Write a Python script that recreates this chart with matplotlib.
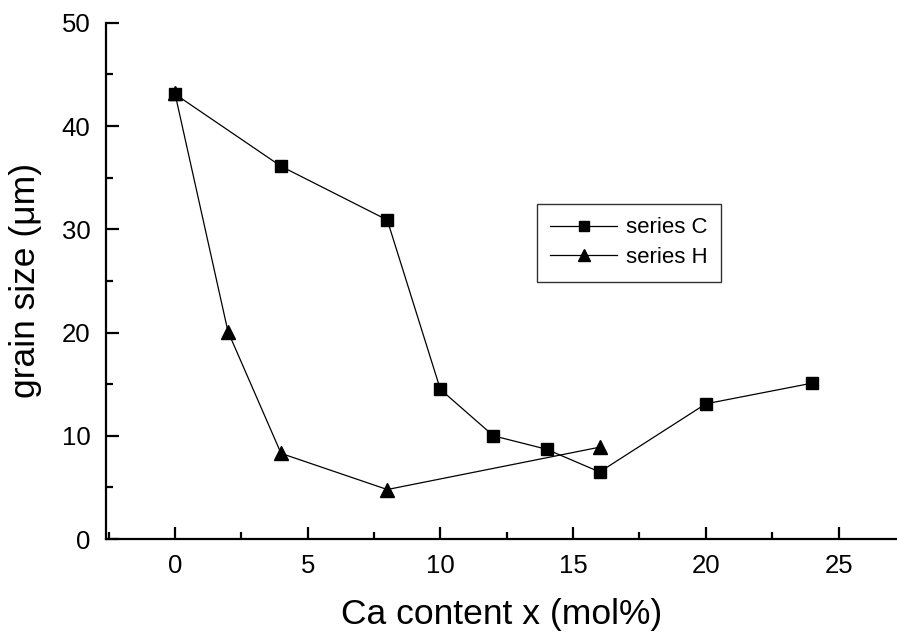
import matplotlib
matplotlib.use("Agg")
import matplotlib.pyplot as plt
from matplotlib.ticker import MultipleLocator

plt.rcParams['font.family'] = ['Liberation Sans', 'DejaVu Sans']

# dane
x_c = [0, 4, 8, 10, 12, 14, 16, 20, 24]
y_c = [43.1, 36.1, 30.9, 14.5, 10.0, 8.7, 6.5, 13.1, 15.1]

x_h = [0, 2, 4, 8, 16]
y_h = [43.2, 20.1, 8.3, 4.8, 8.9]

fig = plt.figure(figsize=(8.97, 6.32), dpi=100)
ax = fig.add_axes([0.118, 0.147, 0.882, 0.817])

ax.plot(x_c, y_c, color='black', lw=0.9, marker='s', markersize=8.5, label='series C')
ax.plot(x_h, y_h, color='black', lw=0.9, marker='^', markersize=9.5, label='series H')

ax.set_xlim(-2.6, 27.2)
ax.set_ylim(0, 50)
ax.xaxis.set_major_locator(MultipleLocator(5))
ax.xaxis.set_minor_locator(MultipleLocator(2.5))
ax.yaxis.set_major_locator(MultipleLocator(10))
ax.yaxis.set_minor_locator(MultipleLocator(5))

ax.spines['top'].set_visible(False)
ax.spines['right'].set_visible(False)
for s in ['left', 'bottom']:
    ax.spines[s].set_linewidth(1.6)

ax.tick_params(which='major', direction='in', length=9, width=1.6, labelsize=18.5, pad=11)
ax.tick_params(which='minor', direction='in', length=5, width=1.6)

ax.set_xlabel("Ca content x (mol%)", fontsize=25.5, labelpad=14)
ax.set_ylabel("grain size (μm)", fontsize=25.5, labelpad=14)

leg = ax.legend(loc='upper left', bbox_to_anchor=(0.545, 0.649), borderaxespad=0,
                fontsize=16, frameon=True, fancybox=False, edgecolor='black',
                handlelength=3.0, borderpad=0.6, labelspacing=0.4,
                handletextpad=0.4, markerscale=0.85)
leg.get_frame().set_linewidth(1.0)

fig.savefig("out.png", dpi=100)
